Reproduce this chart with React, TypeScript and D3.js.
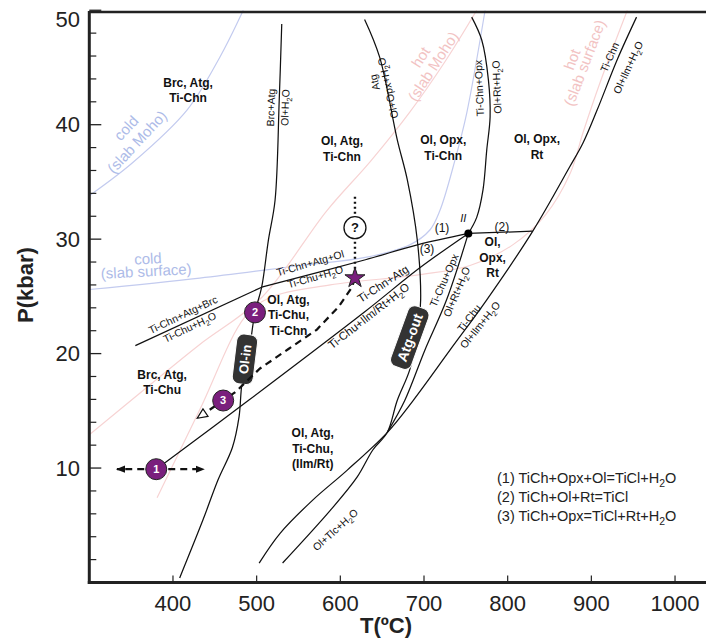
import React from 'react';
import * as d3 from 'd3';

type Pt = [number, number];

const W = 706;
const H = 644;
const FONT = '"Liberation Sans", Arial, Helvetica, sans-serif';

// axis ticks
const xTicks = [400, 500, 600, 700, 800, 900, 1000];
const yTicks = [10, 20, 30, 40, 50];

// reaction curves, [T (°C), P (kbar)]
const brcCurve: Pt[] = [[530, 48.8], [527, 42.2], [522, 33.4], [514, 29.9], [506, 25.8], [498, 23.6], [490, 19.7], [482.5, 17.4], [479, 14.5], [471, 11.8], [454, 9.0], [436, 5.5], [408, 0.4]];
const atgCurve: Pt[] = [[629, 49.2], [647, 45.9], [668, 38.7], [680, 35.2], [692, 29.9], [696, 24.7], [693, 22.1], [683, 18.6], [668, 15.9], [656, 13.1], [639, 11.6], [620, 9.2], [588, 6.3], [531, 1.7]];
const ilmCurve: Pt[] = [[954, 49.4], [931, 45.7], [907, 41.3], [890, 38.4], [874, 36.3], [830, 30.7], [775, 24.7], [731, 20.3], [687, 15.9], [656, 13.1], [608, 9.8], [567, 7.2], [528, 4.3], [503, 1.7]];
const tiChnOpx: Pt[] = [[757, 49.4], [769, 47.4], [777, 43.9], [779, 40.7], [775, 37.8], [770.5, 34.3], [763, 31.9], [753, 30.5]];
const tiChuOpx: Pt[] = [[753, 30.5], [727, 24.7], [701, 20.3], [677, 15.9], [656, 13.1]];
const reaction2: Pt[] = [[753, 30.5], [830, 30.7]];
const brcOut: Pt[] = [[355, 20.7], [506, 25.8]];
const reaction1: Pt[] = [[506, 25.8], [630, 28.2], [692, 29.5], [753, 30.5]];
const reaction3: Pt[] = [[380, 9.9], [490, 15.9], [630, 23.7], [695, 27.5], [753, 30.5]];
const invariantII: Pt = [753, 30.5];

// geotherms
const coldMoho: Pt[] = [[300, 33.8], [352, 36.7], [417, 41.3], [456, 45.9], [484, 50]];
const coldSurface: Pt[] = [[300, 25.6], [432, 26.6], [552, 27.7], [630, 28.4], [683, 29.5], [707, 30.8], [719, 32.5], [737, 36.9], [751, 41.0], [773, 50]];
const hotMoho: Pt[] = [[300, 12.9], [373, 17.3], [432, 20.8], [506, 24.9], [584, 32.5], [636, 36.8], [683, 41.1], [725, 45.5], [763, 50]];
const hotSurface: Pt[] = [[381, 7.4], [432, 15.1], [486, 23.2], [516, 24.9], [588, 26.0], [695, 26.9], [755, 27.7], [806, 29.5], [845, 32.1], [875, 35.8], [890, 39.3], [910, 43.6], [943, 50]];

// P-T path
const stage1: Pt = [380, 9.9];
const stage2: Pt = [498, 23.6];
const stage3: Pt = [460, 15.9];
const starPt: Pt = [617.5, 26.6];
const queryPt: Pt = [617.5, 31.0];
const queryTop: Pt = [617.5, 33.7];
const stage1Range: Pt[] = [[333, 9.9], [437, 9.9]];
const retroPath: Pt[] = [[617.5, 26.6], [614, 25.8], [598, 24.1], [572, 22.1], [538, 20.4], [504, 18.7], [474, 16.6], [460, 15.9], [430, 14.4]];

const fieldLabels: { lines: string[]; at: Pt }[] = [
  { lines: ['Brc, Atg,', 'Ti-Chn'], at: [418, 43.0] },
  { lines: ['Ol, Atg,', 'Ti-Chn'], at: [602, 37.9] },
  { lines: ['Ol, Opx,', 'Ti-Chn'], at: [723, 38.0] },
  { lines: ['Ol, Opx,', 'Rt'], at: [835, 38.1] },
  { lines: ['Ol,', 'Opx,', 'Rt'], at: [782, 28.4] },
  { lines: ['Ol, Atg,', 'Ti-Chu,', 'Ti-Chn'], at: [538, 23.4] },
  { lines: ['Brc, Atg,', 'Ti-Chu'], at: [387, 17.5] },
  { lines: ['Ol, Atg,', 'Ti-Chu,', '(Ilm/Rt)'], at: [567, 11.7] },
];

// [text, T, P, angle, size]
const reactionLabels: [string, number, number, number, number][] = [
  ['Brc+Atg', 517, 41.5, -88, 10.5],
  ['Ol+H2O', 534, 41.5, -88, 10.5],
  ['Atg', 641, 43.7, -103, 10.5],
  ['Ol+Opx+H2O', 657, 43.2, -103, 10.5],
  ['Ti-Chn+Opx', 766, 43.2, -92, 10.5],
  ['Ol+Rt+H2O', 787, 43.3, -92, 10.5],
  ['Ti-Chn', 922, 45.9, -66, 10.5],
  ['Ol+Ilm+H2O', 944, 45.0, -65, 10.5],
  ['Ti-Chn+Atg+Brc', 412, 23.4, -25.5, 10.5],
  ['Ti-Chu+H2O', 420, 22.3, -25.5, 10.5],
  ['Ti-Chn+Atg+Ol', 564, 27.9, -16, 10.5],
  ['Ti-Chu+H2O', 570, 26.7, -16, 10.5],
  ['Ti-Chn+Atg', 651, 26.1, -33, 11.5],
  ['Ti-Chu+Ilm/Rt+H2O', 634, 23.3, -38, 11.5],
  ['Ti-Chu+Opx', 724, 26.4, -66, 10.5],
  ['Ol+Rt+H2O', 739, 25.4, -67, 10.5],
  ['Ti-Chu', 754, 23.1, -52, 10.5],
  ['Ol+Ilm+H2O', 767, 22.5, -51, 10.5],
  ['Ol+Tlc+H2O', 594, 4.6, -42, 10.5],
];

const pointLabels: [string, number, number][] = [
  ['(1)', 721.5, 31.0],
  ['(3)', 703.6, 29.2],
  ['(2)', 793, 31.1],
];

const coldLabels: [string, number, number, number][] = [
  ['cold', 344, 39.7, -47],
  ['(slab Moho)', 357, 38.5, -47],
  ['cold', 370, 28.3, -3],
  ['(slab surface)', 368, 27.2, -3],
];
const hotLabels: [string, number, number, number][] = [
  ['hot', 696, 45.9, -57],
  ['(slab Moho)', 711, 45.1, -57],
  ['hot', 877, 45.7, -69],
  ['(slab surface)', 892, 45.4, -69],
];

const legendRows = ['(1) TiCh+Opx+Ol=TiCl+H2O', '(2) TiCh+Ol+Rt=TiCl', '(3) TiCh+Opx=TiCl+Rt+H2O'];

const x = d3.scaleLinear().domain([300, 1040]).range([89.3, 708.5]);
const y = d3.scaleLinear().domain([0, 50]).range([582.5, 10.25]);

const smooth = d3.line<Pt>().x(d => x(d[0])).y(d => y(d[1])).curve(d3.curveCatmullRom.alpha(0.5));
const straight = d3.line<Pt>().x(d => x(d[0])).y(d => y(d[1]));

const PURPLE = '#7a1f7d';
const BLUE_LINE = '#c3cbef';
const BLUE_TEXT = '#adbbe8';
const PINK_LINE = '#f7d3d3';
const PINK_TEXT = '#f2c3c3';

function rich(s: string, fs: number) {
  return s.split(/(H2O)/).map((part, i) =>
    part === 'H2O' ? (
      <React.Fragment key={i}>
        <tspan>H</tspan>
        <tspan dy={fs * 0.28} fontSize={fs * 0.72}>2</tspan>
        <tspan dy={-fs * 0.28}>O</tspan>
      </React.Fragment>
    ) : (
      <tspan key={i}>{part}</tspan>
    )
  );
}

function Badge({ at, angle, w, h, label, fs }: { at: Pt; angle: number; w: number; h: number; label: string; fs: number }) {
  return (
    <g transform={`translate(${x(at[0])},${y(at[1])}) rotate(${angle})`}>
      <rect x={-w / 2} y={-h / 2} width={w} height={h} rx={7} fill="#333" stroke="#fff" strokeWidth={1} />
      <text textAnchor="middle" dy="0.36em" fill="#fff" fontWeight="bold" fontSize={fs}>{label}</text>
    </g>
  );
}

function Stage({ at, n }: { at: Pt; n: string }) {
  return (
    <g>
      <circle cx={x(at[0])} cy={y(at[1])} r={10.5} fill={PURPLE} stroke="#222" strokeWidth={1} />
      <text x={x(at[0])} y={y(at[1])} dy="0.36em" textAnchor="middle" fill="#fff" fontWeight="bold" fontSize={11}>{n}</text>
    </g>
  );
}

export default function App() {
  const minorY = y.ticks(25).filter(v => v % 10 !== 0 && v > 0);
  const star = d3.symbol(d3.symbolStar, 125)();
  const blackLines = [brcCurve, atgCurve, ilmCurve, tiChnOpx, tiChuOpx, reaction1, reaction3];

  return (
    <div style={{ position: 'absolute', left: 0, top: 0 }}>
      <svg width={W} height={H} style={{ display: 'block', fontFamily: FONT }}>
        <defs>
          <clipPath id="plot">
            <rect x={x(300)} y={y(50)} width={x(1040) - x(300)} height={y(0) - y(50)} />
          </clipPath>
          <marker id="arrFill" viewBox="0 0 10 10" refX={9} refY={5} markerWidth={9} markerHeight={9} markerUnits="userSpaceOnUse" orient="auto">
            <path d="M0,1 L10,5 L0,9 z" fill="#111" />
          </marker>
          <marker id="arrOpen" viewBox="0 0 12 12" refX={10} refY={6} markerWidth={12} markerHeight={12} markerUnits="userSpaceOnUse" orient="auto">
            <path d="M1,1.5 L11,6 L1,10.5 z" fill="#fff" stroke="#111" strokeWidth={1.2} />
          </marker>
        </defs>

        <rect width={W} height={H} fill="#fff" />

        <g clipPath="url(#plot)">
          {/* geotherms */}
          {[coldMoho, coldSurface].map((d, i) => (
            <path key={'c' + i} d={smooth(d) || ''} fill="none" stroke={BLUE_LINE} strokeWidth={1.2} />
          ))}
          {[hotMoho, hotSurface].map((d, i) => (
            <path key={'h' + i} d={smooth(d) || ''} fill="none" stroke={PINK_LINE} strokeWidth={1.2} />
          ))}
          {coldLabels.map(([t, T, P, a], i) => (
            <text key={'cl' + i} transform={`translate(${x(T)},${y(P)}) rotate(${a})`} textAnchor="middle" dy="0.35em" fontSize={15} fill={BLUE_TEXT}>{t}</text>
          ))}
          {hotLabels.map(([t, T, P, a], i) => (
            <text key={'hl' + i} transform={`translate(${x(T)},${y(P)}) rotate(${a})`} textAnchor="middle" dy="0.35em" fontSize={15} fill={PINK_TEXT}>{t}</text>
          ))}

          {/* reactions */}
          {blackLines.map((d, i) => (
            <path key={'r' + i} d={smooth(d) || ''} fill="none" stroke="#111" strokeWidth={1.25} />
          ))}
          {[reaction2, brcOut].map((d, i) => (
            <path key={'s' + i} d={straight(d) || ''} fill="none" stroke="#111" strokeWidth={1.25} />
          ))}
          <circle cx={x(invariantII[0])} cy={y(invariantII[1])} r={4} fill="#000" />
        </g>

        {/* reaction labels */}
        {reactionLabels.map(([t, T, P, a, fs], i) => (
          <text key={'rl' + i} transform={`translate(${x(T)},${y(P)}) rotate(${a})`} textAnchor="middle" dy="0.35em" fontSize={fs} fill="#111">{rich(t, fs)}</text>
        ))}
        {pointLabels.map(([t, T, P], i) => (
          <text key={'pl' + i} x={x(T)} y={y(P)} dy="0.35em" textAnchor="middle" fontSize={12} fill="#111">{t}</text>
        ))}
        <text x={x(invariantII[0]) - 5} y={y(invariantII[1]) - 11} textAnchor="middle" fontSize={11} fontStyle="italic" fill="#111">II</text>

        {/* field labels */}
        {fieldLabels.map((f, i) => {
          const lh = 15.5;
          const y0 = y(f.at[1]) - ((f.lines.length - 1) * lh) / 2;
          return (
            <text key={'f' + i} textAnchor="middle" fontSize={12} fontWeight="bold" fill="#111">
              {f.lines.map((l, j) => (
                <tspan key={j} x={x(f.at[0])} y={y0 + j * lh} dy="0.36em">{l}</tspan>
              ))}
            </text>
          );
        })}

        {/* badges */}
        <Badge at={[486, 19.5]} angle={-83} w={50} h={21} label="Ol-in" fs={13} />
        <Badge at={[683, 21.4]} angle={-70} w={64} h={22} label="Atg-out" fs={14} />

        {/* P-T path */}
        <path d={straight(retroPath) || ''} fill="none" stroke="#111" strokeWidth={2.2} strokeDasharray="7,5" markerEnd="url(#arrOpen)" />
        {stage1Range.map((p, i) => (
          <path key={'a' + i} d={straight([stage1, p]) || ''} fill="none" stroke="#111" strokeWidth={2.2} strokeDasharray="7,5" markerEnd="url(#arrFill)" />
        ))}
        <path d={straight([queryTop, starPt]) || ''} fill="none" stroke="#111" strokeWidth={2.4} strokeDasharray="2,3" />
        <circle cx={x(queryPt[0])} cy={y(queryPt[1])} r={11} fill="#fff" stroke="#111" strokeWidth={1.3} />
        <text x={x(queryPt[0])} y={y(queryPt[1])} dy="0.36em" textAnchor="middle" fontSize={13} fontWeight="bold" fill="#111">?</text>
        <path d={star || ''} transform={`translate(${x(starPt[0])},${y(starPt[1])})`} fill={PURPLE} stroke="#222" strokeWidth={1} />
        <Stage at={stage1} n="1" />
        <Stage at={stage2} n="2" />
        <Stage at={stage3} n="3" />

        {/* legend */}
        {legendRows.map((r, i) => (
          <text key={'lg' + i} x={497} y={483 + i * 19} fontSize={14.5} fill="#222">{rich(r, 14.5)}</text>
        ))}

        {/* axes */}
        <line x1={x(300)} x2={W} y1={12} y2={12} stroke="#222" strokeWidth={2.5} />
        <line x1={x(300)} x2={x(300)} y1={11} y2={y(0) + 1.5} stroke="#222" strokeWidth={3} />
        <line x1={x(300) - 1.5} x2={W} y1={y(0)} y2={y(0)} stroke="#222" strokeWidth={3} />
        {xTicks.map(v => (
          <g key={'xt' + v}>
            <line x1={x(v)} x2={x(v)} y1={y(0)} y2={y(0) - 7} stroke="#222" strokeWidth={1.2} />
            <text x={x(v)} y={611} textAnchor="middle" fontSize={22} fill="#222">{v}</text>
          </g>
        ))}
        {minorY.map(v => (
          <line key={'ym' + v} x1={x(300)} x2={x(300) + 7} y1={y(v)} y2={y(v)} stroke="#222" strokeWidth={1.2} />
        ))}
        {yTicks.map(v => (
          <g key={'yt' + v}>
            <line x1={x(300)} x2={x(300) + 12} y1={y(v)} y2={y(v)} stroke="#222" strokeWidth={1.3} />
            <text x={80} y={Math.max(y(v), 19)} dy="0.35em" textAnchor="end" fontSize={22} fill="#222">{v}</text>
          </g>
        ))}
        <text x={386} y={633} textAnchor="middle" fontSize={22} fontWeight="bold" fill="#222">T(ºC)</text>
        <text transform="translate(33,285) rotate(-90)" textAnchor="middle" fontSize={22} fontWeight="bold" fill="#222">P(kbar)</text>
      </svg>
    </div>
  );
}
